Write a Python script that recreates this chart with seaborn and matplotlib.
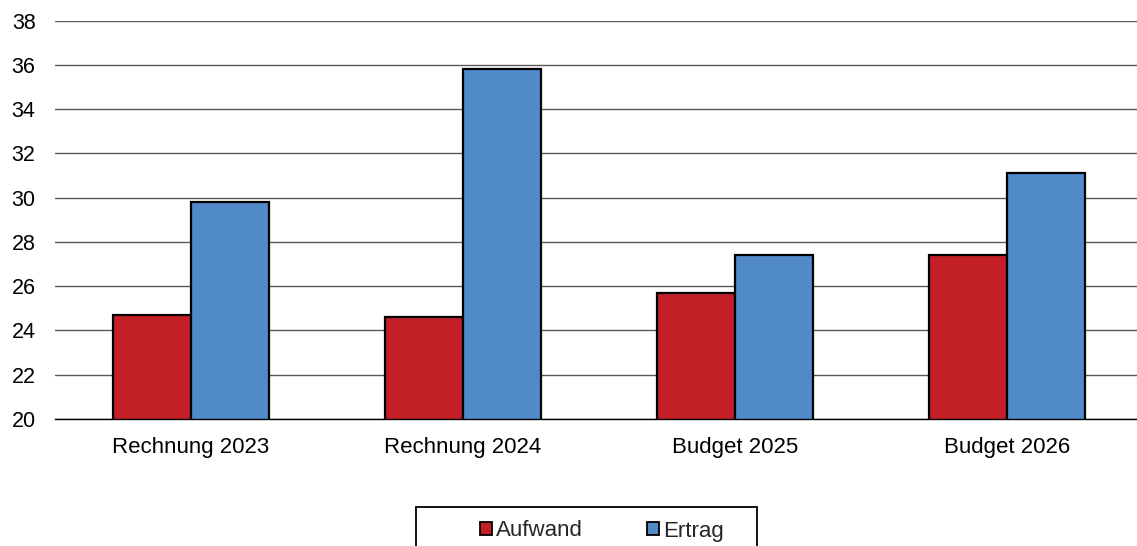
import matplotlib
matplotlib.use("Agg")
import matplotlib.pyplot as plt
from matplotlib.patches import Patch, Rectangle
import seaborn as sns
import pandas as pd

categories = ["Rechnung 2023", "Rechnung 2024", "Budget 2025", "Budget 2026"]
aufwand = [24.7, 24.6, 25.7, 27.4]
ertrag = [29.8, 35.8, 27.4, 31.1]
series_names = ["Aufwand", "Ertrag"]
yticks = [20, 22, 24, 26, 28, 30, 32, 34, 36, 38]

colors = {"Aufwand": "#C22026", "Ertrag": "#508AC8"}

df = pd.DataFrame({
    "Kategorie": categories * 2,
    "Serie": [series_names[0]] * 4 + [series_names[1]] * 4,
    "Wert": aufwand + ertrag,
})

sns.set_theme(style="white")
plt.rcParams["font.family"] = ["Liberation Sans", "DejaVu Sans"]
FS = 16
FSY = 15.5

W, H = 1137, 546
fig = plt.figure(figsize=(W / 100, H / 100), dpi=100)
ax = fig.add_axes([55 / W, (H - 419) / H, 1088 / W, (419 - 20.7) / H])

sns.barplot(data=df, x="Kategorie", y="Wert", hue="Serie", palette=colors,
            width=0.574, edgecolor="black", linewidth=1.6, saturation=1,
            errorbar=None, ax=ax, zorder=3, legend=False)

ax.set_ylim(20, 38)
ax.set_yticks(yticks)
ax.set_xlim(-0.5, 3.5)
ax.yaxis.grid(True, color="#5a5a5a", linewidth=1.0, zorder=0)
ax.set_axisbelow(True)
for s in ["top", "right", "left"]:
    ax.spines[s].set_visible(False)
ax.spines["bottom"].set_color("black")
ax.spines["bottom"].set_linewidth(1.0)
ax.spines["bottom"].set_zorder(4)
ax.set_xlabel("")
ax.set_ylabel("")
ax.tick_params(axis="y", length=0, pad=14, labelsize=FSY, labelcolor="black")
ax.tick_params(axis="x", length=0, pad=13, labelsize=FS, labelcolor="black")

# legend frame extending below figure
fig.patches.append(Rectangle((416 / W, -0.1), 341 / W, (H - 506.7) / H + 0.1,
                             transform=fig.transFigure, fill=False,
                             edgecolor="black", linewidth=1.3))
handles = [Patch(facecolor=colors[n], edgecolor="black", linewidth=1.3, label=n)
           for n in series_names]
fig.legend(handles=handles, loc="center", bbox_to_anchor=(602 / W, 1 - 531 / H),
           ncol=2, frameon=False, fontsize=FS, handlelength=0.54,
           handleheight=0.54, handletextpad=0.18, columnspacing=2.9)

fig.savefig("out.png", dpi=100)
